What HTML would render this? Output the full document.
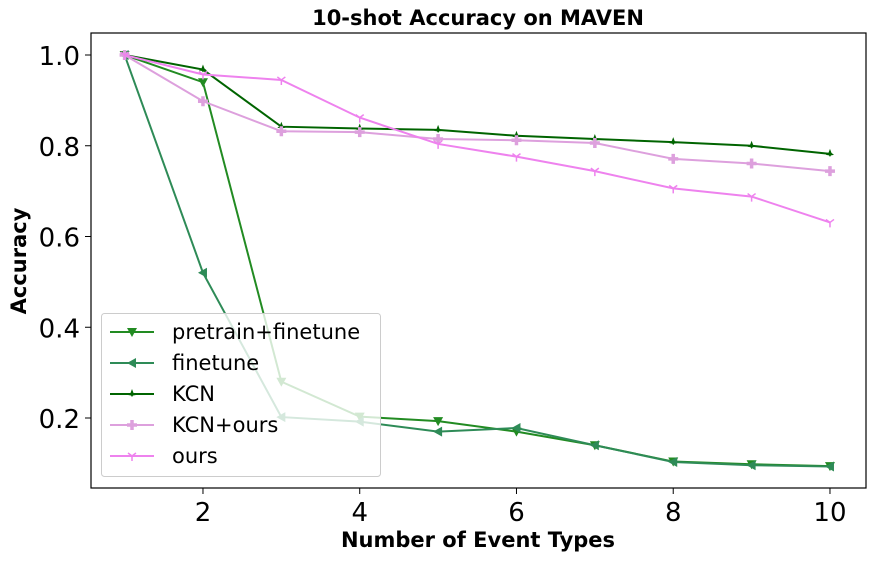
<!DOCTYPE html>
<html><head><meta charset="utf-8"><style>
html,body{margin:0;padding:0;background:#fff;}
svg text{font-family:"DejaVu Sans","Liberation Sans",sans-serif;}
</style></head><body>
<svg id="chart" width="874" height="560" xmlns="http://www.w3.org/2000/svg">
<rect x="0" y="0" width="874" height="560" fill="#fff"/>
<g id="series"></g>
<g id="legend"></g>
<rect x="91" y="33" width="775" height="455" fill="none" stroke="#000" stroke-width="1.2"/>
<g id="axes"></g>
<text x="478" y="25" text-anchor="middle" font-size="21" font-weight="bold">10-shot Accuracy on MAVEN</text>
<text x="478" y="547" text-anchor="middle" font-size="21" font-weight="bold">Number of Event Types</text>
<text transform="translate(26,261) rotate(-90)" text-anchor="middle" font-size="21" font-weight="bold">Accuracy</text>
</svg>
<script>
const xs = [1,2,3,4,5,6,7,8,9,10];
const pretrainFinetune = [1.0,0.94,0.28,0.203,0.193,0.17,0.14,0.104,0.098,0.094];
const finetune = [1.0,0.52,0.202,0.192,0.17,0.178,0.14,0.103,0.096,0.093];
const kcn = [1.0,0.968,0.842,0.838,0.835,0.822,0.815,0.808,0.800,0.782];
const kcnOurs = [1.0,0.898,0.832,0.830,0.815,0.812,0.806,0.771,0.761,0.744];
const ours = [1.0,0.957,0.945,0.862,0.804,0.776,0.744,0.706,0.688,0.631];
const xTicks = [2,4,6,8,10];
const yTicks = [0.2,0.4,0.6,0.8,1.0];
const legendLabels = ["pretrain+finetune","finetune","KCN","KCN+ours","ours"];

const NS="http://www.w3.org/2000/svg";
function X(v){return 124.6+(v-1)*78.375;}
function Y(v){return 508.75-v*453.75;}
function mk(tag,attrs,parent){const e=document.createElementNS(NS,tag);for(const k in attrs)e.setAttribute(k,attrs[k]);parent.appendChild(e);return e;}

const series=[
 {name:"pretrain-finetune",data:pretrainFinetune,color:"#228B22",m:"vdown"},
 {name:"finetune",data:finetune,color:"#2E8B57",m:"vleft"},
 {name:"kcn",data:kcn,color:"#006400",m:"star"},
 {name:"kcn-ours",data:kcnOurs,color:"#DDA0DD",m:"plus"},
 {name:"ours",data:ours,color:"#EE82EE",m:"tri"}
];
function marker(type,x,y,c,g){
 let e;
 if(type==="vdown") e=mk("polygon",{points:`${x-5},${y-4} ${x+5},${y-4} ${x},${y+5}`,fill:c},g);
 else if(type==="vleft") e=mk("polygon",{points:`${x-5},${y} ${x+4},${y-5} ${x+4},${y+5}`,fill:c},g);
 else if(type==="star") e=mk("polygon",{points:`${x},${y-5} ${x+1.5},${y-1} ${x+4},${y+1} ${x+1},${y+1.5} ${x},${y+3} ${x-1},${y+1.5} ${x-4},${y+1} ${x-1.5},${y-1}`,fill:c},g);
 else if(type==="plus") e=mk("path",{d:`M${x-5},${y}H${x+5}M${x},${y-5}V${y+5}`,stroke:c,"stroke-width":3.5,fill:"none"},g);
 else e=mk("path",{d:`M${x},${y}V${y+5}M${x},${y}L${x-4},${y-3}M${x},${y}L${x+4},${y-3}`,stroke:c,"stroke-width":1.5,fill:"none"},g);
 return e;
}
const sg=document.getElementById("series");
series.forEach(s=>{
 const g=mk("g",{},sg);
 
 
 const pts=s.data.map((v,i)=>X(xs[i])+","+Y(v)).join(" ");
 const pl=mk("polyline",{points:pts,fill:"none",stroke:s.color,"stroke-width":2},g);
 
 
 s.data.forEach((v,i)=>{
  const m=marker(s.m,X(xs[i]),Y(v),s.color,g);
  
  
 });
});
const lg=document.getElementById("legend");


mk("rect",{x:101.5,y:313.5,width:279,height:163,rx:3,fill:"#fff","fill-opacity":0.8,stroke:"#ccc","stroke-width":1},lg);
series.forEach((s,i)=>{
 const y=332+i*31;
 const g=mk("g",{},lg);
 
 
 mk("line",{x1:110,x2:154,y1:y,y2:y,stroke:s.color,"stroke-width":2},g);
 marker(s.m,132,y,s.color,g);
 const t=mk("text",{x:172,y:y+7,"font-size":21,fill:"#000"},g);
 t.textContent=legendLabels[i];
});
const ag=document.getElementById("axes");
xTicks.forEach(v=>{
 const x=X(v);
 const l=mk("line",{x1:x,x2:x,y1:488,y2:494,stroke:"#000","stroke-width":1},ag);
 
 
 const t=mk("text",{x:x,y:521,"text-anchor":"middle","font-size":26},ag);
 
 
 t.textContent=String(v);
});
yTicks.forEach(v=>{
 const y=Y(v);
 const l=mk("line",{x1:85,x2:91,y1:y,y2:y,stroke:"#000","stroke-width":1},ag);
 
 
 const t=mk("text",{x:80,y:y+10,"text-anchor":"end","font-size":26},ag);
 
 
 t.textContent=v.toFixed(1);
});
</script>
</body></html>
